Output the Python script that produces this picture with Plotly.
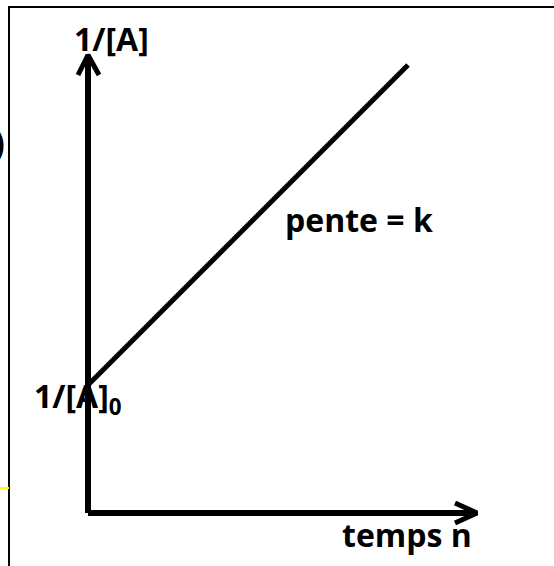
import plotly.graph_objects as go

# Data (coordinate system: origin at the axes corner, 1 unit = 1 px)
line_t = [0, 320]
line_inv_a = [128, 448]

y_axis_x = [0, 0]
y_axis_y = [0, 458]
x_axis_x = [0, 389]
x_axis_y = [0, 0]

y_arrow_x = [-10, 0, 11]
y_arrow_y = [438, 458, 438]
x_arrow_x = [367, 389, 367]
x_arrow_y = [10, 0, -10]

frame_x = [-79, -79, 466]
frame_y = [-53, 506, 506]
yellow_x = [-88, -79]
yellow_y = [25, 25]

labels = ["1/[A]", "pente = k", "temps n", "1/[A]<sub>0</sub>", ")"]

FONT = "Open Sans"

fig = go.Figure()
fig.add_trace(go.Scatter(x=frame_x, y=frame_y, mode="lines",
                         line=dict(color="black", width=2), hoverinfo="skip"))
fig.add_trace(go.Scatter(x=yellow_x, y=yellow_y, mode="lines",
                         line=dict(color="#ffff00", width=2), hoverinfo="skip"))
fig.add_trace(go.Scatter(x=line_t, y=line_inv_a, mode="lines",
                         line=dict(color="black", width=5), hoverinfo="skip"))
fig.add_trace(go.Scatter(x=y_axis_x, y=y_axis_y, mode="lines",
                         line=dict(color="black", width=6), hoverinfo="skip"))
fig.add_trace(go.Scatter(x=x_axis_x, y=x_axis_y, mode="lines",
                         line=dict(color="black", width=6), hoverinfo="skip"))
fig.add_trace(go.Scatter(x=y_arrow_x, y=y_arrow_y, mode="lines",
                         line=dict(color="black", width=5), hoverinfo="skip"))
fig.add_trace(go.Scatter(x=x_arrow_x, y=x_arrow_y, mode="lines",
                         line=dict(color="black", width=5), hoverinfo="skip"))

font = dict(family=FONT, size=32, color="black", weight="bold")
fig.add_annotation(x=23, y=475, text="<b>" + labels[0] + "</b>", showarrow=False,
                   xanchor="center", yanchor="middle", font=font)
fig.add_annotation(x=271, y=294, text="<b>" + labels[1] + "</b>", showarrow=False,
                   xanchor="center", yanchor="middle", font=font)
fig.add_annotation(x=319, y=-21, text="<b>" + labels[2] + "</b>", showarrow=False,
                   xanchor="center", yanchor="middle", font=font)
fig.add_annotation(x=-56, y=115, text="<b>" + labels[3] + "</b>", showarrow=False,
                   xanchor="left", yanchor="middle", font=font)
fig.add_annotation(x=-81, y=371, text="<b>" + labels[4] + "</b>", showarrow=False,
                   xanchor="right", yanchor="middle",
                   font=dict(family=FONT, size=35, color="black", weight="bold"))

fig.update_layout(
    width=554, height=566,
    margin=dict(l=0, r=0, t=0, b=0),
    paper_bgcolor="white", plot_bgcolor="white",
    showlegend=False,
    xaxis=dict(range=[-88, 466], visible=False, fixedrange=True),
    yaxis=dict(range=[-53, 513], visible=False, fixedrange=True),
)

fig.write_html("out.html", config={"displayModeBar": False},
               post_script="document.body.style.margin='0';document.body.style.overflow='hidden';")
